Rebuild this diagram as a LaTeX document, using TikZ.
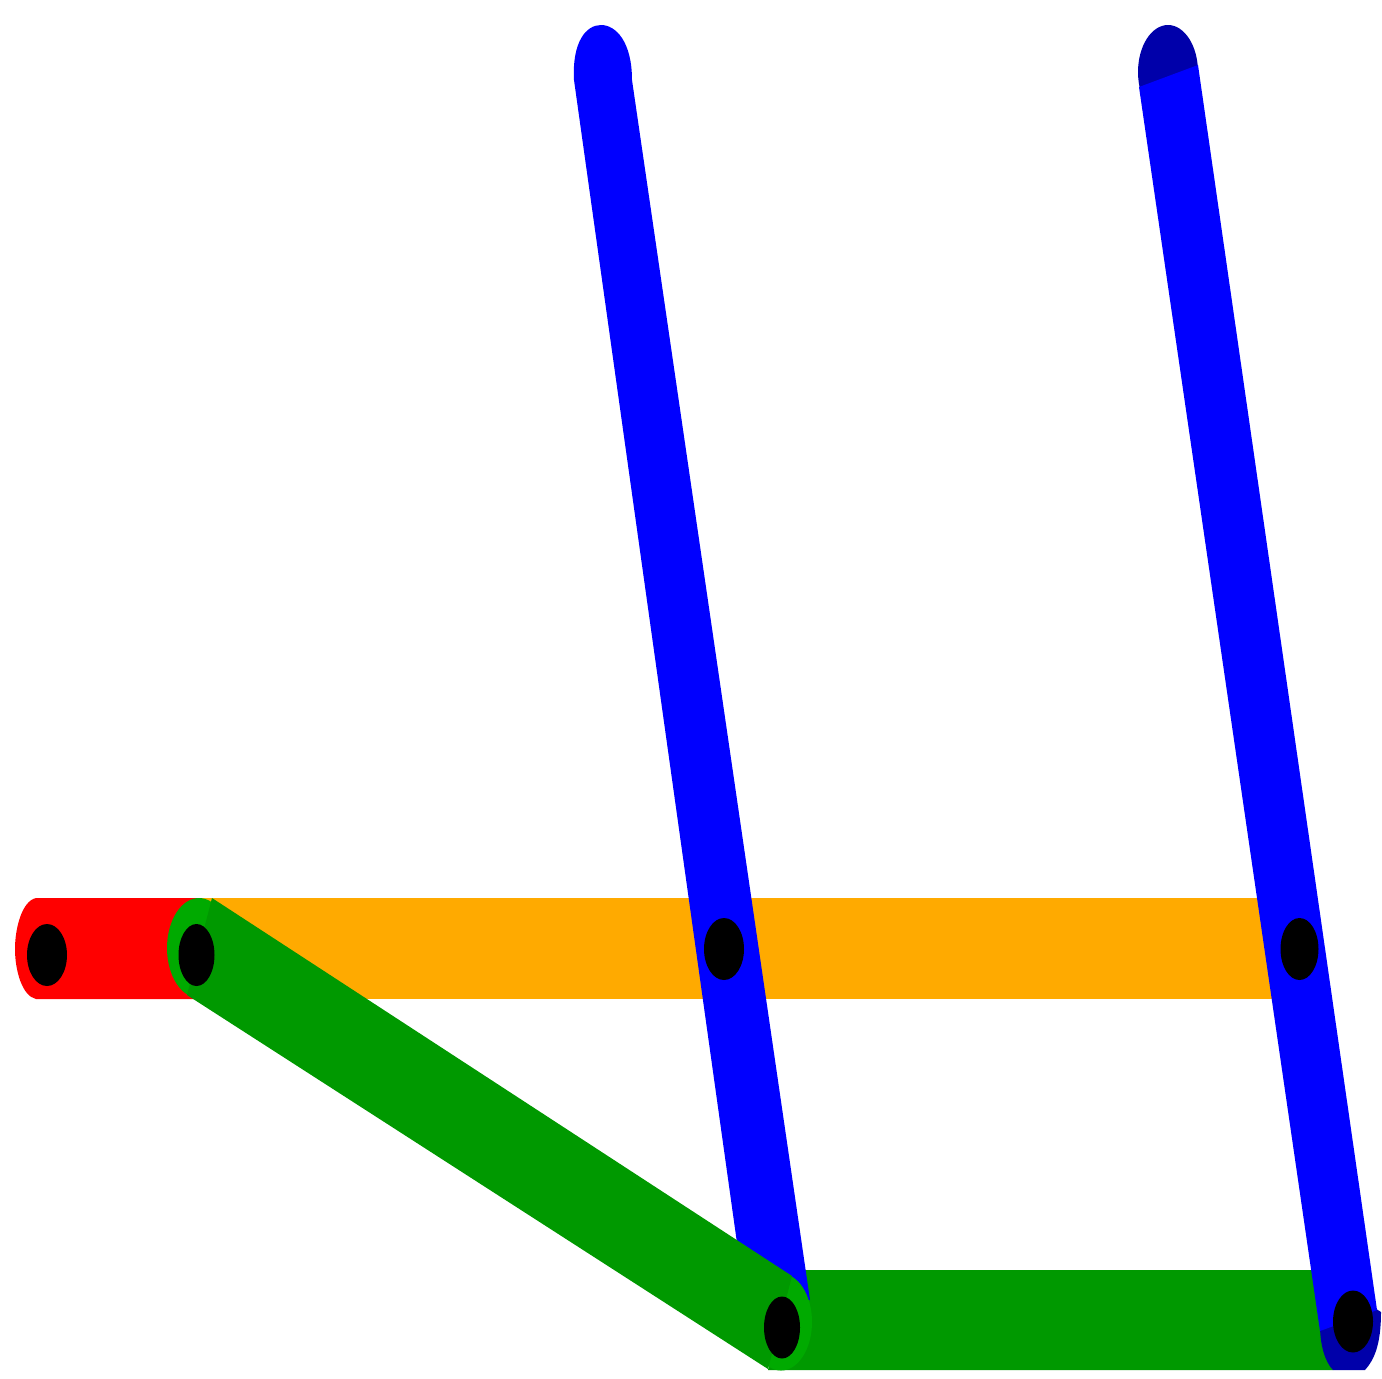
\documentclass[tikz,border=0pt]{standalone}
\definecolor{linkorange}{HTML}{FFAA00}
\definecolor{linkred}{HTML}{FF0000}
\definecolor{linkgreen}{HTML}{009900}
\definecolor{capgreen}{HTML}{00AA00}
\definecolor{linkblue}{HTML}{0000FF}
\definecolor{capblue}{HTML}{0000AA}
\tikzset{
  orangebar/.style={fill=linkorange},
  redbar/.style={fill=linkred},
  greenbar/.style={fill=linkgreen},
  greencap/.style={fill=capgreen},
  bluebar/.style={fill=linkblue},
  bluecap/.style={fill=capblue},
  pinhole/.style={fill=black}
}
\begin{document}
\begin{tikzpicture}[x=0.5pt,y=-0.5pt]
\useasboundingbox (0,0) rectangle (1382,1378);
\fill[white] (0,0) rectangle (1382,1378);
% horizontal bars
\path[orangebar] (190,898) rectangle (1290,999);
\path[redbar] (200,898) -- (36,898) .. controls (22,901) and (15,928) .. (15,949) .. controls (15,970) and (22,996) .. (36,999) -- (200,999) -- cycle;
\path[greenbar] (790,1270) -- (1330,1270) -- (1333,1370) -- (768,1370) -- cycle;
% blue caps
\path[bluecap] (1168,72) ellipse [x radius=30, y radius=47];
\path[bluecap] (1320,1325) .. controls (1320,1345) and (1325,1362) .. (1333,1370) -- (1365,1370) .. controls (1374,1360) and (1381,1345) .. (1381,1312) -- (1370,1305) -- cycle;
% blue bars
\path[bluebar] (745,1300) -- (574,80) .. controls (572,42) and (586,25) .. (601,25) .. controls (616,25) and (632,42) .. (632,80) -- (810,1300) -- cycle;
\path[bluebar] (1139,87) -- (1198,65) -- (1377,1310) -- (1320,1331) -- cycle;
% green link
\path[greencap] (199,948) ellipse [x radius=32, y radius=50];
\path[greencap] (781,1322) ellipse [x radius=31, y radius=48.5];
\path[greenbar] (212,898) -- (792,1276) -- (768,1369) -- (187,995) -- cycle;
% pins
\path[pinhole] (47,955) ellipse [x radius=20, y radius=31];
\path[pinhole] (196.5,955) ellipse [x radius=18, y radius=31];
\path[pinhole] (724,949) ellipse [x radius=20, y radius=31];
\path[pinhole] (1299.5,949) ellipse [x radius=19, y radius=31];
\path[pinhole] (782,1327.5) ellipse [x radius=18, y radius=31];
\path[pinhole] (1353,1321.5) ellipse [x radius=20, y radius=31];
\end{tikzpicture}
\end{document}
